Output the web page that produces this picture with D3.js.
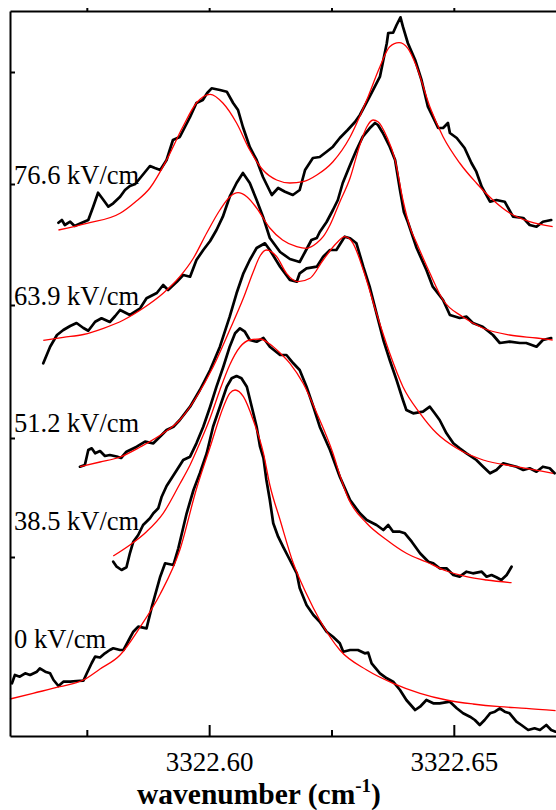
<!DOCTYPE html>
<html>
<head>
<meta charset="utf-8">
<script src="https://cdn.jsdelivr.net/npm/d3@7"></script>
<style>
  body { margin: 0; background: #fff; }
  svg { display: block; }
  text { font-family: "Liberation Serif", "Times New Roman", serif; fill: #000; }
</style>
</head>
<body>
<svg id="chart"></svg>
<script>
// Stark-shifted spectra with Lorentzian fits, offset vertically.
// Wavenumbers are stored as offsets from 3322.60 cm-1 in units of 1e-3 cm-1,
// intensities in arbitrary units (traces already offset).
var base = 3322.60;

var fields = ["0 kV/cm", "38.5 kV/cm", "51.2 kV/cm", "63.9 kV/cm", "76.6 kV/cm"];
var labelLevel = [88, 206, 304, 431, 552];

var majorTicks = [3322.60, 3322.65];
var minorTicks = [3322.575, 3322.625, 3322.675];
var yTicks = [179, 298, 431, 552, 664];

// measured spectra [dnu, intensity]
var trace0 = [[-40.3,52.7],[-39.7,61],[-38.7,59.3],[-37.6,62.7],[-36.6,61],[-35.2,64.3],[-34.6,67.7],[-33.5,64.3],[-32.5,62.7],[-31.8,56],[-30.8,50],[-29.8,54.3],[-28.4,54.3],[-27.1,55],[-25.7,55.3],[-25.0,62.7],[-24.0,73],[-23.3,79.3],[-22.3,78.5],[-21.3,82.7],[-20.3,86],[-19.6,87.7],[-18.2,86],[-17.5,86],[-16.2,98],[-15.5,104.3],[-14.5,109.3],[-12.8,107.7],[-11.7,129.3],[-10.0,159.3],[-9.0,172.7],[-7.3,171],[-6.3,187.7],[-4.6,222.7],[-3.2,246],[-1.9,262.7],[-0.5,282.7],[0.8,309.3],[2.2,329.3],[3.6,349.3],[4.6,357.7],[5.6,360],[6.6,357.7],[7.7,349.3],[8.7,329.3],[9.7,309.3],[10.4,289.3],[11.1,278],[11.7,256],[12.4,236],[13.1,212.7],[14.1,199.3],[15.1,189.3],[16.5,176],[17.9,162.7],[18.5,148],[19.9,131],[21.3,121],[22.6,114.3],[24.0,104.3],[25.3,99.3],[26.7,92.7],[27.4,84.3],[28.8,86],[30.4,86],[31.8,82.7],[32.5,83.3],[33.2,72.7],[34.9,62.7],[36.3,57.7],[37.6,54.3],[39.0,46],[40.3,36],[42.1,26],[43.1,29.3],[44.4,36],[45.8,32.7],[47.1,32.7],[49.2,34.3],[50.6,27.7],[51.9,22.7],[53.3,19.3],[54.3,16],[55.3,11],[56.3,16],[57.4,22.7],[58.4,24.3],[59.4,27.7],[60.4,24.3],[61.4,22.7],[62.8,14.3],[63.8,11],[65.2,6],[66.5,7.7],[67.6,6],[68.9,11],[69.9,6],[70.8,4.3]];
var trace38 = [[-19.6,174.3],[-18.9,169.3],[-17.9,166],[-16.9,168.7],[-16.2,182.7],[-15.5,194.3],[-14.5,201],[-13.5,211],[-12.1,217.7],[-11.4,222.7],[-10.4,227.7],[-9.7,239.3],[-8.7,250],[-6.6,266],[-5.3,276],[-3.9,279.3],[-2.6,292.7],[-1.2,309.3],[0.2,329.3],[1.5,349.3],[2.9,369.3],[4.2,389.3],[5.3,402.7],[6.3,407.7],[7.3,404.3],[8.3,396],[9.7,394.3],[11.1,398],[12.4,389.3],[14.5,381],[15.8,381],[17.2,372.7],[18.5,366],[19.9,349.3],[21.3,329.3],[22.6,309.3],[24.7,286],[26.7,259.3],[28.8,236],[30.8,222.7],[32.2,216],[34.2,211],[35.6,206],[36.6,211],[37.6,204.3],[39.0,204.3],[40.0,202.7],[41.4,194.3],[43.1,182.7],[44.8,174.3],[45.8,172.7],[47.1,167.7],[48.5,167.7],[49.9,161],[51.2,159.3],[52.6,164.3],[53.9,162.7],[55.7,164.3],[56.7,159.3],[57.7,161],[58.7,158.7],[59.7,156],[60.8,161],[61.8,169.3]];
var trace51 = [[-26.4,269.3],[-25.4,271],[-24.7,286],[-24.0,287.7],[-23.3,282.7],[-22.3,285],[-21.3,280],[-20.3,281],[-18.9,279.5],[-18.0,278],[-16.9,284.3],[-14.8,289.3],[-13.1,294.3],[-11.4,292.7],[-9.7,301],[-8.7,306],[-7.3,309.3],[-6.0,316],[-3.9,329.3],[-1.9,346],[0.2,366],[2.2,389.3],[4.2,419.3],[5.6,442.7],[7.0,462.7],[8.3,476],[9.7,488],[11.4,492.7],[12.4,486],[14.5,469.3],[16.5,456],[17.9,454.3],[18.5,462.7],[19.9,467.7],[22.0,469.3],[23.3,479.3],[24.7,486],[26.0,486],[27.7,499.3],[28.8,497.7],[30.1,492.7],[31.5,469.3],[32.8,449.3],[34.2,422.7],[35.6,396],[36.9,376],[38.3,356],[39.6,336],[40.3,326],[41.7,322.7],[43.7,324.3],[45.1,329.3],[46.1,322.7],[47.1,316],[48.5,302.7],[49.9,292.7],[51.2,287.7],[52.6,282.7],[54.6,276],[56.0,269.3],[57.4,262.7],[58.7,266],[60.1,272.7],[61.4,271],[62.8,269.3],[64.2,266],[65.5,267.7],[66.9,264.3],[68.2,269.3],[69.6,267.7],[70.6,262.7]];
var trace63 = [[-33.9,372.7],[-32.5,389.3],[-31.1,401],[-29.8,406],[-28.4,410],[-27.1,413],[-25.7,408],[-24.7,405.3],[-23.3,414.3],[-22.0,417.7],[-20.3,414],[-19.2,420],[-18.2,426],[-16.2,421],[-14.1,427.7],[-12.8,437.7],[-10.7,443],[-9.4,451],[-8.4,446],[-6.6,454.3],[-5.3,461],[-3.9,459.3],[-2.6,476],[-1.2,486],[0.2,495],[1.5,506],[2.8,519.3],[4.2,539.3],[5.6,553],[6.9,563],[8.3,553],[9.7,536],[11.0,519.3],[12.4,498],[14.5,484],[16.5,477],[18.5,474],[19.6,484],[20.9,496],[22.0,498],[22.6,504],[24.0,514],[25.3,526],[26.3,536],[27.3,553],[28.8,571],[30.1,586],[31.4,599.3],[32.8,607.7],[33.9,613],[34.5,611],[35.5,603],[36.9,589.3],[38.0,576],[39.0,546],[39.8,524],[40.6,514],[42.4,488],[44.4,466],[45.7,449.3],[47.8,436],[49.2,421],[51.2,418],[52.6,419.3],[53.9,413],[55.9,409.3],[58.0,401],[59.4,393],[61.4,394.3],[63.5,393],[64.8,393],[66.9,389.3],[68.2,396],[69.9,398]];
var trace76 = [[-30.8,513.3],[-30.1,516],[-29.5,511],[-28.4,514.3],[-27.5,510],[-26.0,513.3],[-24.7,516],[-23.7,529.3],[-22.7,543.3],[-21.6,536],[-20.6,529.3],[-19.6,532.7],[-18.2,539.3],[-17.2,546],[-16.2,550],[-15.1,552],[-14.1,558],[-13.1,564],[-12.1,570],[-11.1,568],[-10.0,566],[-8.7,576],[-7.4,596],[-6.0,599],[-3.9,619],[-2.6,633],[-1.3,636],[-0.4,643],[0.5,647.7],[2.2,646],[3.6,644.3],[4.9,633],[5.9,626],[6.9,609],[8.3,589],[9.7,576],[11.0,559],[12.8,541],[14.1,548],[15.5,544.3],[17.1,541],[18.5,546],[19.6,566],[21.2,578],[22.6,579],[24.0,584.3],[25.3,589.3],[26.7,598],[28.3,606],[29.8,614],[30.8,621],[32.8,639.3],[34.9,659.3],[36.3,692.7],[36.6,703],[37.6,703.3],[38.3,711],[39.1,718.7],[39.6,709.3],[40.6,693],[42.1,676],[43.4,656],[44.7,629.3],[45.7,619.3],[46.8,608],[47.8,608],[48.8,613],[49.2,603],[50.6,598],[52.2,588],[53.6,573],[54.6,564.3],[55.7,549.3],[57.4,534.3],[58.7,536],[60.4,534.3],[62.1,519.3],[64.2,518],[65.5,511],[66.9,509.3],[68.2,514.3],[69.9,516]];

// Lorentzian fits [dnu, intensity]
var fit0 = [[-40.7,37],[-36.0,42.7],[-30.5,49.3],[-25.7,56],[-22.3,67],[-18.2,81],[-14.1,109],[-10.0,142],[-6.0,186],[-2.6,247],[0.2,289],[2.9,329],[4.2,342.7],[5.3,346],[7.0,339.3],[9.0,316],[11.1,282.7],[12.4,251],[14.5,216],[17.2,172.7],[19.9,142],[22.6,116],[26.7,86],[32.2,66],[37.6,52.7],[43.1,42.7],[48.5,36],[53.9,32],[59.4,29.3],[64.8,27.7],[70.8,25.3]];
var fit38 = [[-19.6,180],[-16.2,191],[-12.8,204.3],[-9.4,222.7],[-6.0,252],[-3.9,271],[-1.9,293],[0.2,318],[2.2,346],[4.2,371],[6.3,389],[8.3,396],[10.4,397],[12.4,392],[14.5,383],[16.5,372.7],[19.2,352.7],[22.0,322.7],[25.3,282.7],[26.7,261],[28.4,238],[32.2,212.7],[36.3,196],[40.3,182.7],[44.4,174],[48.5,165],[52.6,159.3],[56.7,156],[61.8,153.3]];
var fit51 = [[-26.4,269.3],[-22.3,274],[-18.2,279],[-14.1,289],[-9.4,302.7],[-6.0,316],[-2.6,339],[0.8,369],[4.2,406],[7.0,438],[9.0,464],[10.4,480],[11.7,486],[13.8,479.3],[15.8,462.7],[18.2,454.3],[20.6,457.7],[23.3,476],[26.0,492.7],[27.7,499.3],[29.4,492.7],[31.5,466],[34.2,422.7],[36.9,382.7],[39.6,349.3],[43.1,322.7],[46.5,302.7],[50.6,287.7],[56.0,276],[62.8,269.3],[70.3,262.7]];
var fit63 = [[-33.9,395.7],[-29.8,398.7],[-25.7,401.5],[-21.6,407.7],[-17.5,416],[-13.5,427.7],[-9.4,442.7],[-6.0,459.3],[-3.2,478],[-0.5,503],[2.2,526],[4.2,539],[5.9,543.3],[7.7,539.3],[9.7,528],[12.4,508],[15.0,496],[17.9,489.3],[19.9,487.7],[22.0,493],[23.3,499.3],[24.7,511],[26.7,534],[28.8,558],[30.8,591],[32.2,609],[33.5,616],[34.5,614.3],[36.3,599.3],[38.0,576],[39.6,536],[41.0,509.3],[42.4,493],[45.1,463],[47.8,436],[51.8,419.3],[55.9,408],[61.4,401],[66.9,398],[70.2,396]];
var fit76 = [[-30.8,506],[-25.0,512.7],[-18.2,522.7],[-15.1,534],[-12.1,548],[-8.7,576],[-5.4,609],[-2.6,633],[0.2,641.7],[2.8,633],[5.6,613],[8.3,586],[11.0,566],[13.8,556],[16.5,553],[19.2,554.3],[22.0,561],[25.3,574.3],[28.8,599],[32.2,636],[34.9,669.3],[36.9,689.3],[38.8,693.3],[40.6,687.7],[42.4,669.3],[45.1,629.3],[47.8,599.3],[51.2,573],[54.6,553],[58.0,536],[61.4,523],[65.5,514.3],[70.2,509.3]];

var traces = [trace0, trace38, trace51, trace63, trace76];
var fits = [fit0, fit38, fit51, fit63, fit76];

var svgWidth = 556, svgHeight = 810;
var svg = d3.select("#chart")
    .attr("width", svgWidth)
    .attr("height", svgHeight);

var x = d3.scaleLinear().domain([3322.5593, 3322.6717]).range([10, 560]);
var y = d3.scaleLinear().domain([0, 725]).range([736, 11]);

var line = d3.line()
    .x(function(d) { return x(base + d[0] / 1000); })
    .y(function(d) { return y(d[1]); });

// data traces (black) then fits (red) on top
svg.append("g").selectAll("path")
    .data(traces)
    .enter().append("path")
    .attr("d", line.curve(d3.curveLinear))
    .attr("fill", "none")
    .attr("stroke", "#000")
    .attr("stroke-width", 2.7)
    .attr("stroke-linejoin", "round")
    .attr("stroke-linecap", "round");

var fitLine = d3.line()
    .x(function(d) { return x(base + d[0] / 1000); })
    .y(function(d) { return y(d[1]); })
    .curve(d3.curveMonotoneX);

svg.append("g").selectAll("path")
    .data(fits)
    .enter().append("path")
    .attr("d", fitLine)
    .attr("fill", "none")
    .attr("stroke", "#ff0000")
    .attr("stroke-width", 1.3);

// axes
var fmt = d3.format(".2f");
var bottom = svg.append("g")
    .attr("transform", "translate(0,736)")
    .call(d3.axisBottom(x).tickValues(majorTicks).tickFormat(fmt)
        .tickSize(-11).tickSizeOuter(0).tickPadding(16));
bottom.selectAll("text").style("font-size", "27px");

svg.append("g")
    .attr("transform", "translate(0,736)")
    .call(d3.axisBottom(x).tickValues(minorTicks).tickFormat("")
        .tickSize(-6).tickSizeOuter(0))
    .select(".domain").remove();

svg.append("g")
    .attr("transform", "translate(0,11)")
    .call(d3.axisTop(x).tickValues(majorTicks.concat(minorTicks)).tickFormat("")
        .tickSize(3).tickSizeOuter(0));

svg.append("g")
    .attr("transform", "translate(10,0)")
    .call(d3.axisLeft(y).tickValues(yTicks).tickFormat("")
        .tickSize(-5).tickSizeOuter(0));

svg.selectAll(".domain").attr("stroke", "#000").attr("stroke-width", 2);
svg.selectAll(".tick line").attr("stroke", "#000").attr("stroke-width", 2);

// trace labels
svg.append("g").selectAll("text")
    .data(fields)
    .enter().append("text")
    .attr("x", 14)
    .attr("y", function(d, i) { return y(labelLevel[i]); })
    .style("font-size", "26.5px")
    .text(function(d) { return d; });

// axis title
var title = svg.append("text")
    .attr("x", 259)
    .attr("y", 804)
    .attr("text-anchor", "middle")
    .style("font-size", "29.5px")
    .style("font-weight", "bold");
title.append("tspan").text("wavenumber (cm");
title.append("tspan").attr("dy", -12).style("font-size", "19px").text("-1");
title.append("tspan").attr("dy", 12).text(")");
</script>
</body>
</html>
